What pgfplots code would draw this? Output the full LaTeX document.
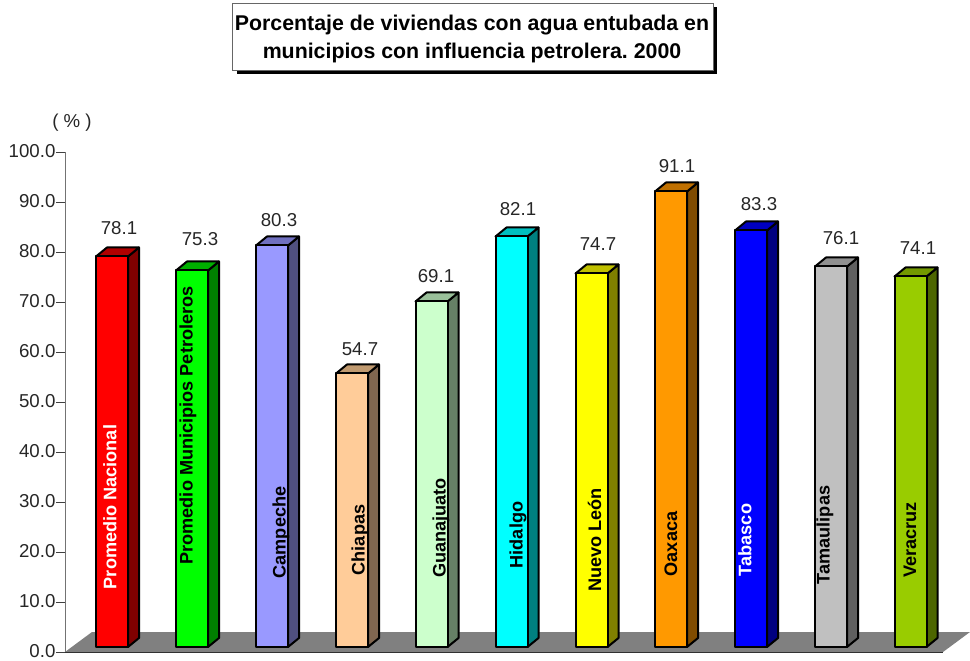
\documentclass[border=0pt]{standalone}
\usepackage{fontspec}
\setmainfont{Liberation Sans}
\usepackage{pgfplots}
\pgfplotsset{compat=1.18}
\usepackage{pgfplotstable}
\frenchspacing
\definecolor{aF}{HTML}{FF0000}\definecolor{aS}{HTML}{800000}\definecolor{aT}{HTML}{B00000}
\definecolor{bF}{HTML}{00FF00}\definecolor{bS}{HTML}{008000}\definecolor{bT}{HTML}{00B000}
\definecolor{cF}{HTML}{9999FF}\definecolor{cS}{HTML}{505080}\definecolor{cT}{HTML}{7070C0}
\definecolor{dF}{HTML}{FFCC99}\definecolor{dS}{HTML}{806650}\definecolor{dT}{HTML}{C09A70}
\definecolor{eF}{HTML}{CCFFCC}\definecolor{eS}{HTML}{668066}\definecolor{eT}{HTML}{9AC09A}
\definecolor{fF}{HTML}{00FFFF}\definecolor{fS}{HTML}{008080}\definecolor{fT}{HTML}{00C0C0}
\definecolor{gF}{HTML}{FFFF00}\definecolor{gS}{HTML}{808000}\definecolor{gT}{HTML}{C0C000}
\definecolor{hF}{HTML}{FF9900}\definecolor{hS}{HTML}{804C00}\definecolor{hT}{HTML}{C07000}
\definecolor{iF}{HTML}{0000FF}\definecolor{iS}{HTML}{000080}\definecolor{iT}{HTML}{0000C0}
\definecolor{jF}{HTML}{C0C0C0}\definecolor{jS}{HTML}{606060}\definecolor{jT}{HTML}{909090}
\definecolor{kF}{HTML}{99CC00}\definecolor{kS}{HTML}{4D6600}\definecolor{kT}{HTML}{739900}
\pgfplotstableread{
x y lab
119 84.8 78.1
200 82.6 75.3
279 86.4 80.3
360 60.6 54.7
436 75.2 69.1
518 88.6 82.1
598 81.6 74.7
677 97.2 91.1
759 89.6 83.3
841 82.8 76.1
918 80.8 74.1
}\vallabels
% #1 centre x, #2 value, #3 colour prefix
\newcommand\barthree[3]{%
  \pgfmathsetmacro\xr{#1+16}%
  \pgfmathsetmacro\xl{#1-16}%
  \pgfmathsetmacro\xd{#1+27}%
  \pgfmathsetmacro\xk{#1-5}%
  \pgfmathsetmacro\yt{#2+1}%
  \pgfmathsetmacro\yd{#2+2.8}%
  \addplot[fill=#3S,draw=black,line width=1.5pt,line join=round] coordinates {(\xr,1) (\xd,2.8) (\xd,\yd) (\xr,\yt)} --cycle;
  \addplot[fill=#3T,draw=black,line width=1.5pt,line join=round] coordinates {(\xl,\yt) (\xk,\yd) (\xd,\yd) (\xr,\yt)} --cycle;
  \addplot[ybar,bar width=32,bar shift=0pt,fill=#3F,draw=black,line width=1.5pt,line join=round,yshift=3.75pt] coordinates {(#1,#2)};
}
\begin{document}
\begin{tikzpicture}
\begin{axis}[
  x=0.75pt,y=3.75pt,
  xmin=65,xmax=943,ymin=0,ymax=100,
  clip=false,
  axis y line*=left,axis x line*=bottom,
  axis line style={-},
  y axis line style={draw=black!55},
  x axis line style={draw=black!85,line width=0.8pt},
  xtick=\empty,
  ytick={0,10,...,100},
  tick align=outside,
  major tick length=6.5pt,
  ytick style={draw=black!75,line width=0.7pt},
  yticklabel style={/pgf/number format/fixed,/pgf/number format/zerofill,/pgf/number format/precision=1,/pgf/number format/assume math mode=true,font=\fontsize{14}{16}\selectfont,text=black!85,inner sep=0.5pt,yshift=0.8pt},
  scaled y ticks=false,
]
\path (axis cs:0,-1.6) rectangle (axis cs:970,130.4);
\addplot[fill=black!50,draw=none] coordinates {(65,0) (92,4) (970,4) (943,0)} --cycle;
\barthree{112}{78.1}{a}
\barthree{192}{75.3}{b}
\barthree{272}{80.3}{c}
\barthree{352}{54.7}{d}
\barthree{431.5}{69.1}{e}
\barthree{511.5}{82.1}{f}
\barthree{591.5}{74.7}{g}
\barthree{671}{91.1}{h}
\barthree{751}{83.3}{i}
\barthree{831}{76.1}{j}
\barthree{910.5}{74.1}{k}
\addplot[only marks,mark=none,nodes near coords,point meta=explicit symbolic,
  nodes near coords style={anchor=center,font=\fontsize{14}{16}\selectfont,text=black!85}]
  table[x=x,y=y,meta=lab] {\vallabels};
% category labels
\tikzset{cat/.style={rotate=90,anchor=center,font=\bfseries\fontsize{13.6}{16}\selectfont,inner sep=0pt}}
\node[cat,text=white] at (axis cs:110,29) {Promedio Nacional};
\node[cat] at (axis cs:188,45.3) {Promedio Municipios Petroleros};
\node[cat] at (axis cs:281,23.9) {Campeche};
\node[cat] at (axis cs:360,22.4) {Chiapas};
\node[cat] at (axis cs:441,24.8) {Guanajuato};
\node[cat] at (axis cs:518,23.4) {Hidalgo};
\node[cat] at (axis cs:594.5,22.4) {Nuevo León};
\node[cat] at (axis cs:671,21.6) {Oaxaca};
\node[cat,text=white] at (axis cs:745,22.4) {Tabasco};
\node[cat] at (axis cs:825,23.4) {Tamaulipas};
\node[cat] at (axis cs:910,22.4) {Veracruz};
\node[font=\fontsize{14}{16}\selectfont,text=black!85] at (axis cs:72,105.8) {( \% )};
% title box
\fill[black] (axis cs:237,129) rectangle (axis cs:717,115.6);
\draw[fill=white,draw=black!60,line width=0.7pt] (axis cs:232,129.8) rectangle (axis cs:713,116.4);
\node[align=center,font=\bfseries\fontsize{16}{20.8}\selectfont,text=black] at (axis cs:472,122.6) {Porcentaje de viviendas con agua entubada en\\municipios con influencia petrolera. 2000};
\end{axis}
\end{tikzpicture}
\end{document}
